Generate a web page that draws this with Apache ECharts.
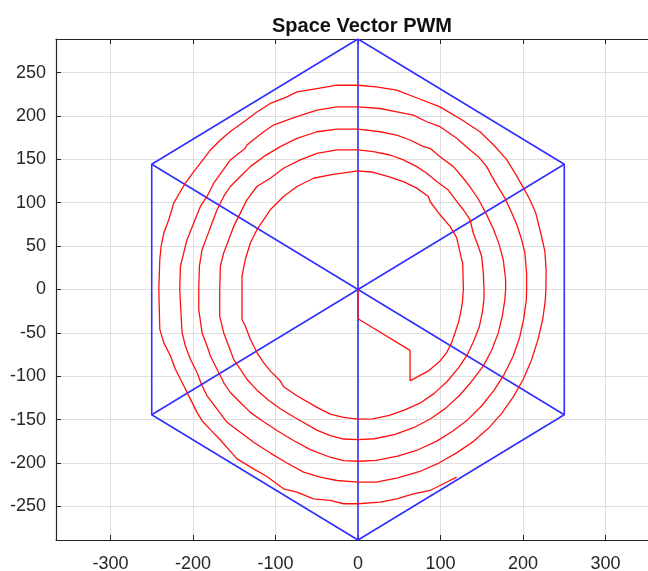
<!DOCTYPE html>
<html>
<head>
<meta charset="utf-8">
<script src="https://cdn.jsdelivr.net/npm/echarts@6/dist/echarts.min.js"></script>
<style>
  html, body { margin: 0; padding: 0; background: #fff; }
  #chart { width: 648px; height: 571px; }
</style>
</head>
<body>
<div id="chart"></div>
<script>
// hexagon (sector boundaries) and the three spokes through the origin
var hexagon = [[0, 288.68], [250, 144.34], [250, -144.34], [0, -288.68], [-250, -144.34], [-250, 144.34], [0, 288.68]];
var spokeV = [[0, 288.68], [0, -288.68]];
var spokeA = [[-250, 144.34], [250, -144.34]];
var spokeB = [[-250, -144.34], [250, 144.34]];

// reference vector trace (counter-clockwise)
var traceStart = [[0, 0], [0, -33.7], [63.1, -70.1], [63.1, -105.3], [85.3, -93.8]];
var passA = [[87.3, -91.9], [99.4, -82.3], [107.5, -72.7], [113.5, -61.2], [117.6, -49.8], [121.6, -38.3], [124.4, -26.8], [126.5, -15.3], [127.7, 0],
  [126.9, 30.6], [125.6, 34.5], [119.6, 59.7], [111.5, 72.7], [99.4, 86.1], [87.3, 101.4], [85.3, 107.2], [71.2, 116.8], [55.0, 124.4], [36.9, 130.2], [18.7, 135.1], [0, 136.7],
  [-33.7, 132.1], [-53.9, 128.2], [-74.0, 118.7], [-90.2, 107.2], [-106.3, 91.9], [-110.4, 86.1], [-122.5, 68.9], [-130.5, 53.6], [-136.6, 34.5], [-140.6, 15.3], [-140.6, -23],
  [-140.6, -34.5], [-136.6, -42.1], [-130.5, -57.4], [-122.5, -72.7], [-114.4, -84.2], [-106.3, -93.8], [-94.2, -105.5], [-90.2, -112], [-74.0, -122.5], [-49.8, -135.9], [-33.7, -143.6], [-17.6, -147.4], [0, -149.3]];
var passB = [[18, -149], [38, -145], [56, -139], [75, -131], [92, -120], [108, -106], [122, -90], [132, -76], [140, -60], [147, -43], [151, -25], [152.7, -10], [152.7, 0],
  [151.9, 19.1], [149.8, 38.3], [145.8, 49.8], [139.7, 65.1], [135.7, 80.4], [127.7, 91.9], [118.5, 103], [109, 115], [95.4, 124.4], [83.3, 134.0], [71.2, 141.6], [55.0, 149.3], [38.9, 155.0], [18.7, 158.9], [0, 160.8],
  [-25.6, 160.8], [-49.8, 156.9], [-70.0, 149.3], [-90.2, 139.7], [-106.3, 128.2], [-122.5, 118.7], [-134.6, 103.4], [-142.6, 88.0], [-150.7, 72.7], [-156.7, 57.4], [-162.8, 42.1], [-166.8, 26.8], [-167.6, 0],
  [-167.6, -30.6], [-162.8, -49.8], [-156.7, -65.1], [-150.7, -80.4], [-142.6, -91.9], [-134.6, -103.4], [-122.5, -116], [-108, -128], [-94.2, -137.5], [-74.0, -149], [-49.8, -162], [-33.7, -168.4], [-17.6, -172.3], [0, -173.0]];
var passC = [[20, -172], [45, -167], [68, -159], [88, -149], [106, -137], [122, -123], [136, -108], [152, -88], [162, -70], [170, -50], [175, -30], [178, -12], [178.9, 0],
  [178.9, 11.5], [176, 34.5], [171, 52], [164, 70], [156, 86], [146, 104], [136, 118], [127.7, 128.2], [115.6, 141.6], [99.4, 153.1], [87.3, 162.7], [79.3, 164.6], [63.1, 172.3], [47.0, 178.0], [26.8, 181.8], [0, 184.9],
  [-25.6, 184.9], [-49.8, 181.8], [-74.0, 174.2], [-94.2, 164.6], [-114.4, 153.1], [-130.5, 141.6], [-142.6, 130.2], [-154.7, 118.7], [-162.8, 107.2], [-170.8, 91.9], [-176.9, 76.6], [-182.9, 61.2], [-189.0, 45.9], [-192.2, 26.8], [-193.0, 0],
  [-193.0, -23.0], [-189.0, -49.8], [-182.9, -65.1], [-178.9, -76.6], [-170.8, -91.9], [-162.8, -107.2], [-154.7, -118.7], [-142.6, -130.2], [-130.5, -141.6], [-114.4, -152.5], [-98.3, -162.5], [-78.1, -174], [-57.9, -184.5], [-33.7, -193.3], [-17.6, -197.1], [0, -197.9]];
var passD = [[22, -197], [48, -192], [72, -185], [95, -175], [115, -163], [133, -150], [150, -134], [165, -116], [177, -98], [188, -77], [196, -55], [201, -33], [204, -12], [204.3, 0],
  [204.3, 19.1], [202.3, 42.1], [198.3, 57.4], [193, 73.5], [186, 89], [178, 105.3], [169, 119.5], [162, 131], [155.9, 141.6], [145.8, 153.1], [133, 163], [119.6, 174.2], [99.4, 187.6], [83.3, 193.3], [67.1, 201.0], [47.0, 204.8], [26.8, 208.6], [0, 210.5],
  [-25.6, 210.5], [-49.8, 206.7], [-74.0, 199.1], [-86.1, 195.2], [-102.2, 189.5], [-114.4, 181.8], [-134.6, 166.5], [-136.6, 162.7], [-154.7, 149.3], [-164.8, 135.9], [-174.9, 122.5], [-183.0, 107.2], [-191.0, 95.7], [-199.1, 76.6], [-207.2, 57.4], [-211.2, 42.1], [-215.2, 26.8], [-216.0, 0],
  [-215.2, -15.3], [-213.2, -49.8], [-209.2, -65.1], [-203.1, -80.4], [-195.1, -95.7], [-189.0, -111.0], [-182.9, -122.5], [-170.8, -137.8], [-158.7, -153.1], [-142.6, -164.6], [-126.5, -176.1], [-106.3, -188.5], [-86.1, -200], [-65.9, -210.5], [-45.8, -216.3], [-25.6, -220.1], [0, -222.0]];
var passE = [[22, -222], [48, -217], [74, -210], [98, -200], [120, -188], [140, -175], [158, -160], [174, -143], [188, -124], [200, -104], [210, -82], [218, -58], [224, -34], [227, -12], [227.7, 0],
  [228, 22], [226.5, 44.0], [221.5, 65.1], [215.4, 88.1], [208.4, 103.4], [200, 118], [191, 133], [180, 150], [165, 166], [147.8, 181.8], [127.6, 194.5], [99.4, 210.5], [73.2, 220.1], [47.0, 229.7], [22, 233.5], [0, 235.4],
  [-25.6, 235.4], [-49.8, 231.6], [-74.0, 227.8], [-86.1, 222.0], [-106.3, 214.4], [-122.5, 204.5], [-136.6, 194.5], [-154.7, 182], [-166.8, 172.3], [-178.9, 160.8], [-187.0, 150.5], [-199.1, 135.9], [-209.2, 122.5], [-215.2, 112.9], [-223.3, 99.5], [-229.3, 80.4], [-235.4, 65.1], [-238.6, 49.8], [-240.2, 34.5], [-241.4, 0],
  [-240.2, -45.9], [-235.4, -61.2], [-227.3, -76.6], [-221.3, -91.9], [-211.2, -111.0], [-203.1, -126.3], [-195.1, -141.6], [-189.0, -151.2], [-178.9, -161.5], [-166.8, -173.5], [-146.6, -195.2], [-126.5, -206.7], [-110.4, -215.5], [-90.2, -229.7], [-74.0, -233.5], [-53.9, -241.2], [-33.7, -243.1], [-17.6, -246.9], [0, -246.9]];
var traceEnd = [[26.8, -245.0], [47.0, -241.2], [67.1, -235.4], [87.3, -231.6], [103.5, -223.9], [119.6, -216.3]];

var xRange = [-366, 366];
var yRange = [-288.68, 288.68];

var trace = traceStart.concat(passA, passB, passC, passD, passE, traceEnd);

var chart = echarts.init(document.getElementById('chart'));

var axisColor = '#262626';
var labelFont = 'Liberation Sans, Arial, Helvetica, sans-serif';

function blueLine(name, data) {
    return {
        name: name,
        type: 'line',
        data: data,
        showSymbol: false,
        symbol: 'none',
        silent: true,
        z: 2,
        lineStyle: { color: '#3030ff', width: 1.6 }
    };
}

var option = {
    animation: false,
    backgroundColor: '#ffffff',
    title: {
        text: 'Space Vector PWM',
        left: 357,
        top: 11,
        textAlign: 'center',
        textStyle: {
            color: '#111',
            fontSize: 20,
            fontWeight: 'bold',
            fontFamily: labelFont
        }
    },
    grid: {
        left: 56,
        top: 39,
        right: -12,
        bottom: 31,
        outerBoundsMode: 'none',
        containLabel: false
    },
    xAxis: [{
        type: 'value',
        position: 'bottom',
        min: xRange[0],
        max: xRange[1],
        splitNumber: 7,
        minInterval: 100,
        maxInterval: 100,
        axisLine: { show: true, onZero: false, lineStyle: { color: axisColor, width: 1.2 } },
        axisTick: { show: true, inside: true, length: 5, lineStyle: { color: axisColor } },
        axisLabel: {
            showMinLabel: false,
            showMaxLabel: false,
            color: axisColor,
            fontSize: 18,
            fontFamily: labelFont,
            margin: 15
        },
        splitLine: { show: true, lineStyle: { color: '#dedede', width: 1 } }
    }, {
        type: 'value',
        position: 'top',
        min: xRange[0],
        max: xRange[1],
        splitNumber: 7,
        minInterval: 100,
        maxInterval: 100,
        axisLine: { show: true, onZero: false, lineStyle: { color: axisColor, width: 1.2 } },
        axisTick: { show: true, inside: true, length: 5, lineStyle: { color: axisColor } },
        axisLabel: { show: false },
        splitLine: { show: false }
    }],
    yAxis: {
        type: 'value',
        min: yRange[0],
        max: yRange[1],
        splitNumber: 11,
        minInterval: 50,
        maxInterval: 50,
        axisLine: { show: true, onZero: false, lineStyle: { color: axisColor, width: 1.2 } },
        axisTick: { show: true, inside: true, length: 5, lineStyle: { color: axisColor } },
        axisLabel: {
            showMinLabel: false,
            showMaxLabel: false,
            color: axisColor,
            fontSize: 18,
            fontFamily: labelFont,
            margin: 10
        },
        splitLine: { show: true, lineStyle: { color: '#dedede', width: 1 } }
    },
    series: [
        blueLine('hexagon', hexagon),
        blueLine('spokeV', spokeV),
        blueLine('spokeA', spokeA),
        blueLine('spokeB', spokeB),
        {
            name: 'trace',
            type: 'line',
            data: trace,
            showSymbol: false,
            symbol: 'none',
            silent: true,
            z: 3,
            lineStyle: { color: '#ff1010', width: 1.3 }
        }
    ]
};

chart.setOption(option);
</script>
</body>
</html>
